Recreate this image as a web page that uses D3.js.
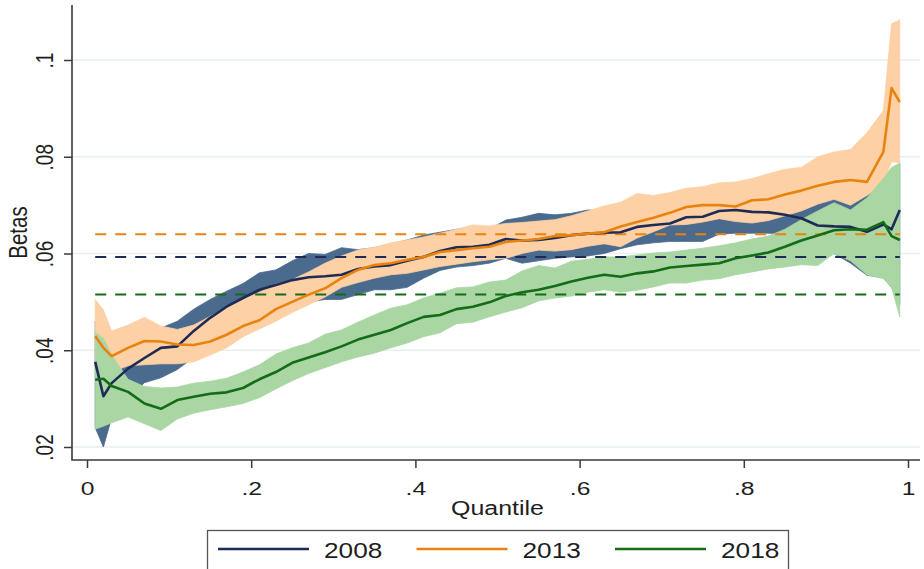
<!DOCTYPE html>
<html>
<head>
<meta charset="utf-8">
<script src="https://cdn.jsdelivr.net/npm/d3@7"></script>
<style>
  html, body { margin: 0; padding: 0; background: #fff; }
  svg { display: block; font-family: 'Liberation Sans', Arial, sans-serif; }
  text { fill: #1e1e1e; }
</style>
</head>
<body>
<svg id="chart" width="924" height="569"></svg>
<script>
'use strict';

// Data
const quantile = [
  0.01, 0.02, 0.03, 0.05, 0.07, 0.09, 0.11, 0.13, 0.15, 0.17, 0.19, 0.21, 0.23,
  0.25, 0.27, 0.29, 0.31, 0.33, 0.35, 0.37, 0.39, 0.41, 0.43, 0.45, 0.47, 0.49,
  0.51, 0.53, 0.55, 0.57, 0.59, 0.61, 0.63, 0.65, 0.67, 0.69, 0.71, 0.73, 0.75,
  0.77, 0.79, 0.81, 0.83, 0.85, 0.87, 0.89, 0.91, 0.93, 0.95, 0.97, 0.98, 0.99
];

const beta2008 = [
  0.0376, 0.0305, 0.0332, 0.0362, 0.0384, 0.0405, 0.0408, 0.0440, 0.0467, 0.0490, 0.0508, 0.0525, 0.0535,
  0.0545, 0.0551, 0.0553, 0.0556, 0.0568, 0.0573, 0.0576, 0.0585, 0.0593, 0.0605, 0.0613, 0.0614, 0.0618,
  0.0630, 0.0627, 0.0628, 0.0632, 0.0638, 0.0641, 0.0643, 0.0644, 0.0655, 0.0659, 0.0662, 0.0675, 0.0676,
  0.0688, 0.0690, 0.0686, 0.0685, 0.0680, 0.0673, 0.0658, 0.0656, 0.0655, 0.0645, 0.0660, 0.0650, 0.0690
];
const lo2008 = [
  0.0240, 0.0200, 0.0260, 0.0300, 0.0333, 0.0343, 0.0360, 0.0385, 0.0405, 0.0430, 0.0450, 0.0470, 0.0485,
  0.0495, 0.0500, 0.0505, 0.0505, 0.0515, 0.0525, 0.0525, 0.0530, 0.0549, 0.0565, 0.0572, 0.0575, 0.0580,
  0.0590, 0.0580, 0.0585, 0.0590, 0.0593, 0.0595, 0.0600, 0.0610, 0.0618, 0.0622, 0.0625, 0.0625, 0.0625,
  0.0640, 0.0642, 0.0642, 0.0642, 0.0640, 0.0630, 0.0610, 0.0600, 0.0580, 0.0555, 0.0550, 0.0530, 0.0495
];
const hi2008 = [
  0.0460, 0.0400, 0.0400, 0.0400, 0.0420, 0.0446, 0.0460, 0.0485, 0.0505, 0.0522, 0.0538, 0.0560, 0.0566,
  0.0585, 0.0600, 0.0598, 0.0612, 0.0608, 0.0612, 0.0620, 0.0628, 0.0638, 0.0644, 0.0650, 0.0655, 0.0650,
  0.0669, 0.0675, 0.0683, 0.0680, 0.0683, 0.0690, 0.0688, 0.0695, 0.0700, 0.0705, 0.0710, 0.0720, 0.0730,
  0.0735, 0.0740, 0.0730, 0.0727, 0.0725, 0.0722, 0.0715, 0.0718, 0.0722, 0.0725, 0.0740, 0.0765, 0.0785
];

const beta2013 = [
  0.0429, 0.0405, 0.0388, 0.0405, 0.0419, 0.0418, 0.0412, 0.0411, 0.0418, 0.0432, 0.0450, 0.0462, 0.0485,
  0.0500, 0.0515, 0.0528, 0.0549, 0.0566, 0.0576, 0.0580, 0.0587, 0.0593, 0.0603, 0.0607, 0.0611, 0.0614,
  0.0624, 0.0627, 0.0630, 0.0636, 0.0638, 0.0641, 0.0644, 0.0656, 0.0665, 0.0674, 0.0684, 0.0696, 0.0700,
  0.0700, 0.0697, 0.0710, 0.0712, 0.0722, 0.0730, 0.0740, 0.0748, 0.0752, 0.0748, 0.0810, 0.0942, 0.0913
];
const lo2013 = [
  0.0370, 0.0350, 0.0355, 0.0368, 0.0370, 0.0372, 0.0372, 0.0376, 0.0390, 0.0405, 0.0428, 0.0444, 0.0460,
  0.0478, 0.0494, 0.0510, 0.0530, 0.0540, 0.0549, 0.0556, 0.0559, 0.0566, 0.0573, 0.0578, 0.0583, 0.0587,
  0.0590, 0.0600, 0.0607, 0.0605, 0.0608, 0.0615, 0.0620, 0.0614, 0.0632, 0.0645, 0.0659, 0.0660, 0.0665,
  0.0672, 0.0666, 0.0663, 0.0668, 0.0678, 0.0688, 0.0702, 0.0712, 0.0700, 0.0720, 0.0745, 0.0790, 0.0787
];
const hi2013 = [
  0.0505, 0.0483, 0.0440, 0.0452, 0.0468, 0.0450, 0.0443, 0.0452, 0.0470, 0.0490, 0.0506, 0.0520, 0.0537,
  0.0546, 0.0562, 0.0580, 0.0595, 0.0607, 0.0613, 0.0622, 0.0628, 0.0634, 0.0642, 0.0650, 0.0659, 0.0657,
  0.0662, 0.0664, 0.0667, 0.0670, 0.0678, 0.0688, 0.0698, 0.0706, 0.0724, 0.0720, 0.0726, 0.0735, 0.0738,
  0.0746, 0.0748, 0.0755, 0.0765, 0.0774, 0.0778, 0.0800, 0.0810, 0.0815, 0.0850, 0.0895, 0.1075, 0.1083
];

const beta2018 = [
  0.0339, 0.0341, 0.0326, 0.0314, 0.0290, 0.0279, 0.0297, 0.0304, 0.0310, 0.0313, 0.0322, 0.0340, 0.0355,
  0.0374, 0.0385, 0.0396, 0.0408, 0.0422, 0.0432, 0.0442, 0.0456, 0.0469, 0.0473, 0.0485, 0.0490, 0.0499,
  0.0512, 0.0520, 0.0525, 0.0533, 0.0542, 0.0550, 0.0556, 0.0552, 0.0559, 0.0563, 0.0571, 0.0574, 0.0577,
  0.0580, 0.0590, 0.0596, 0.0602, 0.0614, 0.0627, 0.0637, 0.0648, 0.0650, 0.0649, 0.0665, 0.0636, 0.0628
];
const lo2018 = [
  0.0237, 0.0243, 0.0250, 0.0262, 0.0248, 0.0234, 0.0258, 0.0270, 0.0277, 0.0283, 0.0290, 0.0302, 0.0320,
  0.0337, 0.0352, 0.0364, 0.0376, 0.0386, 0.0394, 0.0405, 0.0415, 0.0428, 0.0436, 0.0455, 0.0458, 0.0469,
  0.0479, 0.0488, 0.0502, 0.0508, 0.0512, 0.0520, 0.0525, 0.0520, 0.0524, 0.0531, 0.0539, 0.0539, 0.0545,
  0.0548, 0.0556, 0.0562, 0.0568, 0.0572, 0.0577, 0.0575, 0.0600, 0.0585, 0.0556, 0.0548, 0.0530, 0.0469
];
const hi2018 = [
  0.0436, 0.0425, 0.0390, 0.0340, 0.0325, 0.0322, 0.0324, 0.0332, 0.0336, 0.0342, 0.0355, 0.0370, 0.0392,
  0.0405, 0.0415, 0.0433, 0.0442, 0.0458, 0.0473, 0.0487, 0.0494, 0.0508, 0.0518, 0.0529, 0.0531, 0.0541,
  0.0545, 0.0564, 0.0575, 0.0570, 0.0584, 0.0588, 0.0593, 0.0593, 0.0597, 0.0601, 0.0603, 0.0607, 0.0611,
  0.0616, 0.0622, 0.0630, 0.0636, 0.0650, 0.0670, 0.0688, 0.0705, 0.0690, 0.0715, 0.0755, 0.0778, 0.0787
];

// OLS reference levels (dashed)
const years = ['2008', '2013', '2018'];
const meanBeta = [0.0593, 0.0640, 0.0515];

const xTicks = [0, 0.2, 0.4, 0.6, 0.8, 1];
const xTickLabels = ['0', '.2', '.4', '.6', '.8', '1'];
const yTicks = [0.02, 0.04, 0.06, 0.08, 0.1];
const yTickLabels = ['.02', '.04', '.06', '.08', '.1'];

// Styling
const LINE_COLORS = ['#1f2b57', '#e8830f', '#146b18'];
const BAND_COLORS = ['#4b6b8e', '#fdd1a5', '#a9d6a3'];
const GRID_COLOR = '#e7eff1';
const AXIS_COLOR = '#3a3a3a';
const STRETCH = 1.3; // the source picture is widened horizontally

const svg = d3.select('#chart');

const plot = { left: 72, right: 920, top: 5, bottom: 460 };

const x = d3.scaleLinear().domain([0, 1]).range([87, 908]);
const y = d3.scaleLinear().domain([0.02, 0.1]).range([447, 60]);

const series = years.map((year, i) => ({
  year: year,
  mean: meanBeta[i],
  line: LINE_COLORS[i],
  band: BAND_COLORS[i],
  points: quantile.map((q, j) => ({
    q: q,
    beta: [beta2008, beta2013, beta2018][i][j],
    lo: [lo2008, lo2013, lo2018][i][j],
    hi: [hi2008, hi2013, hi2018][i][j]
  }))
}));

// Grid
svg.append('g')
  .attr('class', 'grid')
  .selectAll('line')
  .data(yTicks)
  .enter()
  .append('line')
    .attr('x1', plot.left)
    .attr('x2', plot.right)
    .attr('y1', d => y(d))
    .attr('y2', d => y(d))
    .attr('stroke', GRID_COLOR)
    .attr('stroke-width', 1.5);

// Confidence bands
const area = d3.area()
  .x(d => x(d.q))
  .y0(d => y(d.lo))
  .y1(d => y(d.hi));

svg.append('g')
  .attr('class', 'bands')
  .selectAll('path')
  .data(series)
  .enter()
  .append('path')
    .attr('d', d => area(d.points))
    .attr('fill', d => d.band)
    .attr('stroke', d => d.band)
    .attr('stroke-width', 0.8);

// Dashed mean lines
const qExtent = d3.extent(quantile);

svg.append('g')
  .attr('class', 'means')
  .selectAll('line')
  .data(series)
  .enter()
  .append('line')
    .attr('x1', x(qExtent[0]))
    .attr('x2', x(qExtent[1]))
    .attr('y1', d => y(d.mean))
    .attr('y2', d => y(d.mean))
    .attr('stroke', d => d.line)
    .attr('stroke-width', 2)
    .attr('stroke-dasharray', '11,9');

// Quantile estimates
const line = d3.line()
  .x(d => x(d.q))
  .y(d => y(d.beta));

svg.append('g')
  .attr('class', 'lines')
  .selectAll('path')
  .data(series)
  .enter()
  .append('path')
    .attr('d', d => line(d.points))
    .attr('fill', 'none')
    .attr('stroke', d => d.line)
    .attr('stroke-width', 2.6)
    .attr('stroke-linejoin', 'round');

// Axes
const yAxis = svg.append('g')
  .attr('transform', 'translate(' + plot.left + ',0)')
  .call(d3.axisLeft(y)
    .tickValues(yTicks)
    .tickFormat((d, i) => yTickLabels[i])
    .tickSize(8));

yAxis.select('.domain').remove();
yAxis.selectAll('.tick line')
  .attr('stroke', AXIS_COLOR)
  .attr('stroke-width', 1.5);
yAxis.selectAll('.tick text')
  .attr('x', null)
  .attr('dy', null)
  .attr('text-anchor', 'middle')
  .attr('font-size', 19)
  .attr('transform', 'translate(-19,0) scale(' + STRETCH + ',1) rotate(-90)');

const xAxis = svg.append('g')
  .attr('transform', 'translate(0,' + plot.bottom + ')')
  .call(d3.axisBottom(x)
    .tickValues(xTicks)
    .tickFormat((d, i) => xTickLabels[i])
    .tickSize(8));

xAxis.select('.domain').remove();
xAxis.selectAll('.tick line')
  .attr('stroke', AXIS_COLOR)
  .attr('stroke-width', 1.5);
xAxis.selectAll('.tick text')
  .attr('y', null)
  .attr('dy', null)
  .attr('font-size', 19)
  .attr('transform', 'translate(0,35) scale(' + STRETCH + ',1)');

svg.selectAll('.tick text')
  .attr('fill', '#1e1e1e')
  .attr('font-family', "'Liberation Sans', Arial, sans-serif");

svg.append('path')
  .attr('d', 'M' + plot.left + ',' + plot.top + 'V' + plot.bottom + 'H' + plot.right)
  .attr('fill', 'none')
  .attr('stroke', AXIS_COLOR)
  .attr('stroke-width', 1.6);

// Axis titles
svg.append('text')
  .attr('transform', 'translate(27,' + (plot.top + plot.bottom) / 2 + ') scale(' + STRETCH + ',1) rotate(-90)')
  .attr('text-anchor', 'middle')
  .attr('font-size', 20.5)
  .text('Betas');

svg.append('text')
  .attr('transform', 'translate(' + (x(0) + x(1)) / 2 + ',515) scale(1.28,1)')
  .attr('text-anchor', 'middle')
  .attr('font-size', 19.5)
  .text('Quantile');

// Legend
const legend = svg.append('g').attr('class', 'legend');

legend.append('rect')
  .attr('x', 207.5)
  .attr('y', 530.5)
  .attr('width', 581)
  .attr('height', 44)
  .attr('fill', '#fff')
  .attr('stroke', '#555')
  .attr('stroke-width', 1.3);

const items = legend.selectAll('.item')
  .data(series)
  .enter()
  .append('g')
    .attr('class', 'item')
    .attr('transform', (d, i) => 'translate(' + (218 + i * 198.5) + ',0)');

items.append('line')
  .attr('x1', 0)
  .attr('x2', 91)
  .attr('y1', 549)
  .attr('y2', 549)
  .attr('stroke', d => d.line)
  .attr('stroke-width', 2.6);

items.append('text')
  .attr('transform', 'translate(106,558) scale(1.22,1)')
  .attr('font-size', 21.5)
  .text(d => d.year);
</script>
</body>
</html>
